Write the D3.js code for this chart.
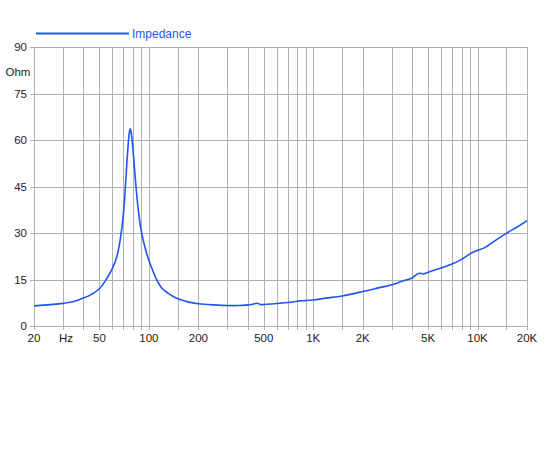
<!DOCTYPE html>
<html>
<head>
<meta charset="utf-8">
<script src="https://cdnjs.cloudflare.com/ajax/libs/d3/7.8.5/d3.min.js"></script>
<style>
body { margin: 0; background: #fff; }
text { font-family: "Liberation Sans", Arial, sans-serif; }
</style>
</head>
<body>
<svg id="chart" width="550" height="450"></svg>
<script>
// impedance curve
var freqLst = [20, 25, 30, 35, 40, 45, 50, 55, 60, 64, 67, 70, 72, 74, 76, 77, 78, 80, 83.5, 86, 89, 93, 97, 100, 105, 110, 120, 130, 140, 150, 175, 200, 250, 300, 350, 400, 430, 455, 480, 520, 600, 700, 780, 820, 900, 1000, 1200, 1500, 2000, 2500, 3000, 3500, 4000, 4300, 4450, 4700, 5100, 6000, 7000, 8000, 9200, 10000, 11000, 13000, 15000, 17500, 20000];
var ohmLst = [6.5, 6.9, 7.3, 7.9, 9.0, 10.3, 12.0, 15.0, 18.6, 22.6, 28, 36, 45, 55, 62.3, 63.6, 62.5, 57, 45, 38, 32, 27.0, 23.4, 21.2, 18.2, 15.6, 12.2, 10.7, 9.6, 8.8, 7.7, 7.2, 6.8, 6.6, 6.6, 6.8, 7.0, 7.35, 6.9, 7.0, 7.25, 7.6, 7.9, 8.1, 8.2, 8.4, 9.0, 9.7, 11.1, 12.3, 13.3, 14.5, 15.5, 16.8, 17.0, 16.8, 17.5, 18.7, 20.0, 21.5, 23.6, 24.4, 25.2, 27.8, 29.9, 32.0, 34.0];

var gridFreqs = [20, 30, 40, 50, 60, 70, 80, 90, 100, 150, 200, 300, 400, 500, 600, 700, 800, 900, 1000, 1500, 2000, 3000, 4000, 5000, 6000, 7000, 8000, 9000, 10000, 15000, 20000];
var xLabelVals = [20, 50, 100, 200, 500, 1000, 2000, 5000, 10000, 20000];
var xLabelTxt = ["20", "50", "100", "200", "500", "1K", "2K", "5K", "10K", "20K"];
var yTicks = [0, 15, 30, 45, 60, 75, 90];
var seriesName = "Impedance";
var unitY = "Ohm";
var unitX = "Hz";

// plot box (window.top is reserved, so no "top" here)
var plotL = 34, plotR = 527, plotT = 47, plotB = 326;
var lineColor = "#1f56f0";
var gridColor = "#adb1b9";

var svg = d3.select("#chart");

var x = d3.scaleLog().domain([20, 20000]).range([plotL, plotR]);
var y = d3.scaleLinear().domain([0, 90]).range([plotB, plotT]);

// vertical grid + small ticks under the axis
svg.append("g").selectAll("line").data(gridFreqs).enter().append("line")
    .attr("x1", function(d){ return Math.round(x(d)) + 0.5; })
    .attr("x2", function(d){ return Math.round(x(d)) + 0.5; })
    .attr("y1", plotT)
    .attr("y2", plotB + 4)
    .attr("stroke", gridColor)
    .attr("stroke-width", 1);

// horizontal grid
svg.append("g").selectAll("line").data(yTicks).enter().append("line")
    .attr("x1", plotL - 4)
    .attr("x2", plotR)
    .attr("y1", function(d){ return Math.round(y(d)) + 0.5; })
    .attr("y2", function(d){ return Math.round(y(d)) + 0.5; })
    .attr("stroke", gridColor)
    .attr("stroke-width", 1);

svg.append("g").selectAll("text").data(yTicks).enter().append("text")
    .attr("x", plotL - 7)
    .attr("y", function(d){ return y(d) + 4; })
    .attr("text-anchor", "end")
    .attr("font-size", 11.5)
    .attr("fill", "#222")
    .text(function(d){ return d; });

svg.append("g").selectAll("text").data(xLabelVals).enter().append("text")
    .attr("x", function(d){ return x(d); })
    .attr("y", plotB + 16)
    .attr("text-anchor", "middle")
    .attr("font-size", 11.5)
    .attr("fill", "#222")
    .text(function(d, i){ return xLabelTxt[i]; });

svg.append("text")
    .attr("x", 66).attr("y", plotB + 16)
    .attr("text-anchor", "middle")
    .attr("font-size", 11.5)
    .attr("fill", "#222")
    .text(unitX);

svg.append("text")
    .attr("x", 18).attr("y", 76)
    .attr("text-anchor", "middle")
    .attr("font-size", 11.5)
    .attr("fill", "#222")
    .text(unitY);

var pts = freqLst.map(function(f, i){ return [f, ohmLst[i]]; });
var line = d3.line()
    .x(function(d){ return x(d[0]); })
    .y(function(d){ return y(d[1]); })
    .curve(d3.curveCatmullRom.alpha(0.5));

svg.append("path")
    .datum(pts)
    .attr("d", line)
    .attr("fill", "none")
    .attr("stroke", lineColor)
    .attr("stroke-width", 1.6);

// legend
svg.append("line")
    .attr("x1", 36).attr("x2", 129)
    .attr("y1", 33.5).attr("y2", 33.5)
    .attr("stroke", lineColor)
    .attr("stroke-width", 2);
svg.append("text")
    .attr("x", 132).attr("y", 38)
    .attr("font-size", 12)
    .attr("fill", lineColor)
    .text(seriesName);
</script>
</body>
</html>
